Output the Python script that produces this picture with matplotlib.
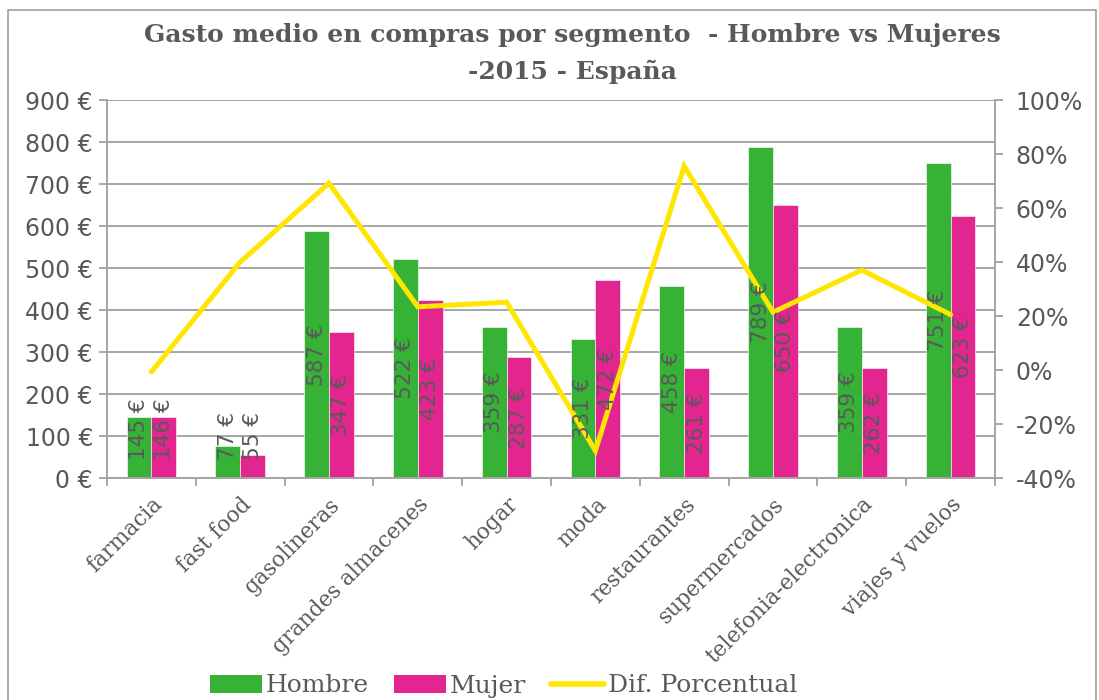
import numpy as np
import matplotlib
matplotlib.use('Agg')
import matplotlib.pyplot as plt
from matplotlib.patches import Patch, Rectangle
from matplotlib.lines import Line2D

# ---------------- data ----------------
categorias = ['farmacia', 'fast food', 'gasolineras', 'grandes almacenes', 'hogar',
              'moda', 'restaurantes', 'supermercados', 'telefonia-electronica',
              'viajes y vuelos']
hombre = [145, 77, 587, 522, 359, 331, 458, 789, 359, 751]
mujer = [146, 55, 347, 423, 287, 472, 261, 650, 262, 623]
dif_pct = [-0.7, 40.0, 69.2, 23.4, 25.1, -29.9, 75.5, 21.4, 37.0, 20.5]

GREEN, MAGENTA, YELLOW = '#36B336', '#E3268F', '#FFE600'
GREY, TXT = '#A6A6A6', '#595959'
SANS = 'DejaVu Sans'
SLAB = 'DejaVu Serif'
TICK_FS = 17

fig = plt.figure(figsize=(10.99, 7.0), dpi=100)
fig.patches.append(Rectangle((8/1099, -0.01), (1096-8)/1099, 1 - 10/700 + 0.01,
                             transform=fig.transFigure, fill=False,
                             edgecolor='#A0A0A0', lw=1.2))

ax = fig.add_axes([107/1099, 1 - 478/700, (995-107)/1099, (478-100)/700])
ax2 = ax.twinx()

x = np.arange(len(categorias))
w = 0.28
ax.bar(x - w/2, hombre, w, color=GREEN, edgecolor='white', lw=0.4, zorder=3)
ax.bar(x + w/2, mujer, w, color=MAGENTA, edgecolor='white', lw=0.4, zorder=3)

ax.set_xlim(-0.5, len(categorias) - 0.5)
ax.set_ylim(0, 900)
ax.set_yticks(np.arange(0, 901, 100))
ax.set_yticklabels(['%d €' % v for v in range(0, 901, 100)])
ax.yaxis.grid(True, color=GREY, lw=1.4, zorder=0)
ax.set_axisbelow(True)

ax.set_xticks(np.arange(-0.5, len(categorias), 1.0))
ax.set_xticklabels([])
ax.set_xticks(x, minor=True)
ax.set_xticklabels(categorias, minor=True, rotation=45, ha='right',
                   rotation_mode='anchor', fontsize=15.5, family=SLAB, color=TXT)
ax.tick_params(axis='x', which='minor', length=0, pad=11)
ax.tick_params(axis='x', which='major', length=6, color=GREY, width=1.4)
ax.tick_params(axis='y', length=6, color=GREY, width=1.4, labelsize=TICK_FS,
               labelcolor=TXT, pad=4)
for lab in ax.get_yticklabels():
    lab.set_family(SANS)

ax.spines['top'].set_visible(False)
ax2.spines['top'].set_visible(False)
for a in (ax, ax2):
    for s in ['left', 'right', 'bottom']:
        a.spines[s].set_color(GREY)
        a.spines[s].set_linewidth(1.4)

# secondary axis: percentage difference
ax2.plot(x, dif_pct, color=YELLOW, lw=3.6, solid_capstyle='round',
         solid_joinstyle='miter', zorder=4)
ax2.set_ylim(-40, 100)
ax2.set_yticks(np.arange(-40, 101, 20))
ax2.set_yticklabels(['%d%%' % v for v in range(-40, 101, 20)])
ax2.tick_params(axis='y', length=6, color=GREY, width=1.4, labelsize=TICK_FS,
                labelcolor=TXT, pad=9)
for lab in ax2.get_yticklabels():
    lab.set_family(SANS)

# data labels (drawn above the line)
def put_labels(xs, vals):
    for xi, v in zip(xs, vals):
        if v < 200:
            ax2.text(xi, 42, '%d €' % v, transform=ax.transData, rotation=90,
                     ha='center', va='bottom', fontsize=15.5, color=TXT,
                     family=SANS, zorder=6)
        else:
            ax2.text(xi, v / 2, '%d €' % v, transform=ax.transData, rotation=90,
                     ha='center', va='center', fontsize=15.5, color=TXT,
                     family=SANS, zorder=6)

put_labels(x - w/2, hombre)
put_labels(x + w/2, mujer)

fig.text(0.521, 1 - 35/700, 'Gasto medio en compras por segmento  - Hombre vs Mujeres',
         ha='center', va='center', fontsize=18, fontweight='bold', color=TXT, family=SLAB)
fig.text(0.521, 1 - 72/700, '-2015 - España',
         ha='center', va='center', fontsize=18, fontweight='bold', color=TXT, family=SLAB)

handles = [Patch(facecolor=GREEN, edgecolor='none'),
           Patch(facecolor=MAGENTA, edgecolor='none'),
           Line2D([], [], color=YELLOW, lw=4, solid_capstyle='round')]
fig.legend(handles, ['Hombre', 'Mujer', 'Dif. Porcentual'], loc='center',
           bbox_to_anchor=(0.458, 1 - 686/700), ncol=3, frameon=False,
           prop={'family': SLAB, 'size': 18}, labelcolor=TXT,
           handlelength=2.1, handleheight=0.7, handletextpad=0.15,
           columnspacing=1.0)

fig.savefig('out.png', dpi=100)
